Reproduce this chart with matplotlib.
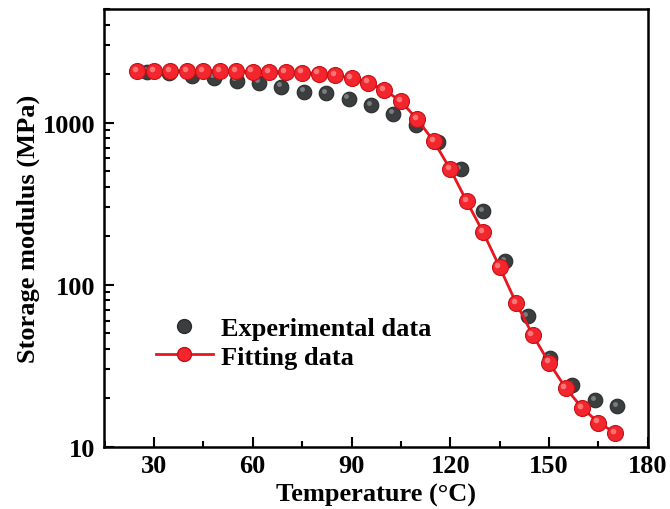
"""Storage modulus vs temperature: experimental DMA points and model fit."""
import matplotlib

matplotlib.use("Agg")
import matplotlib.pyplot as plt
from matplotlib.ticker import MultipleLocator
from matplotlib.transforms import offset_copy

# experimental DMA data
exp_temp = [27.9, 34.7, 41.5, 48.3, 55.1, 61.9, 68.7, 75.5, 82.3, 89.1,
            95.9, 102.7, 109.5, 116.3, 123.1, 129.9, 136.7, 143.5, 150.3,
            157.1, 163.9, 170.6]
exp_modulus = [2060, 2010, 1945, 1890, 1815, 1760, 1665, 1550, 1515, 1405,
               1280, 1135, 960, 755, 514, 285, 140, 64, 35.3, 24.1, 19.5, 17.9]

# fitted curve
fit_temp = [25, 30, 35, 40, 45, 50, 55, 60, 65, 70, 75, 80, 85, 90, 95,
            100, 105, 110, 115, 120, 125, 130, 135, 140, 145, 150, 155, 160,
            165, 170]
fit_modulus = [2080, 2080, 2080, 2075, 2070, 2070, 2065, 2060, 2055, 2045,
               2030, 2005, 1970, 1870, 1760, 1590, 1350, 1045, 765, 515, 326,
               210, 128, 77, 49, 33, 23.1, 17.4, 14.1, 12.2]

plt.rcParams["font.family"] = ["Liberation Serif", "DejaVu Serif"]
plt.rcParams["font.weight"] = "bold"

FS = 19

fig = plt.figure(figsize=(6.7, 5.1), dpi=100)
ax = fig.add_axes([0.155, 0.122, 0.812, 0.858])

# highlight transform, nudged up-left to fake the shaded-sphere look
hl = offset_copy(ax.transData, fig=fig, x=-1.6, y=1.6, units="points")

ax.plot(exp_temp, exp_modulus, ls="none", marker="o", ms=10.5,
        mfc="#3b3e3e", mec="#2a2c2c", mew=0.8, zorder=2)
ax.plot(exp_temp, exp_modulus, ls="none", marker="o", ms=3.5,
        mfc="#8a8e8e", mec="none", alpha=0.8, transform=hl, zorder=2.1)

ax.plot(fit_temp, fit_modulus, color="#e8161e", lw=2.0, marker="o", ms=11.5,
        mfc="#f2262c", mec="#c80f16", mew=0.8, zorder=3)
ax.plot(fit_temp, fit_modulus, ls="none", marker="o", ms=4,
        mfc="#ff8a8a", mec="none", alpha=0.8, transform=hl, zorder=3.1)

ax.set_yscale("log")
ax.set_xlim(14.8, 180)
ax.set_ylim(10, 5000)
ax.xaxis.set_major_locator(MultipleLocator(30))
ax.xaxis.set_minor_locator(MultipleLocator(15))
ax.set_yticks([10, 100, 1000])
ax.set_yticklabels(["10", "100", "1000"])

ax.tick_params(which="both", direction="in", top=False, right=False,
               width=1.5, labelsize=FS)
ax.tick_params(axis="x", which="major", pad=5)
ax.tick_params(axis="y", which="major", pad=6)
ax.tick_params(which="major", length=7)
ax.tick_params(which="minor", length=4)
for sp in ax.spines.values():
    sp.set_linewidth(1.8)

ax.set_xlabel("Temperature (\u00b0C)", fontsize=FS, fontweight="bold")
ax.xaxis.set_label_coords(0.5, -0.083)
ax.set_ylabel("Storage modulus (MPa)", fontsize=FS, fontweight="bold", labelpad=2)

h_exp = plt.Line2D([], [], ls="none", marker="o", ms=10, mfc="#3b3e3e",
                   mec="#2a2c2c")
h_fit = plt.Line2D([], [], color="#e8161e", lw=2.0, marker="o", ms=10,
                   mfc="#f2262c", mec="#c80f16")
ax.legend([h_exp, h_fit], ["Experimental data", "Fitting data"],
          loc="upper left", bbox_to_anchor=(0.062, 0.34), frameon=False,
          fontsize=FS, handlelength=2.15, handletextpad=0.3, labelspacing=0.2,
          borderpad=0.2)

fig.savefig("out.png", dpi=100)
